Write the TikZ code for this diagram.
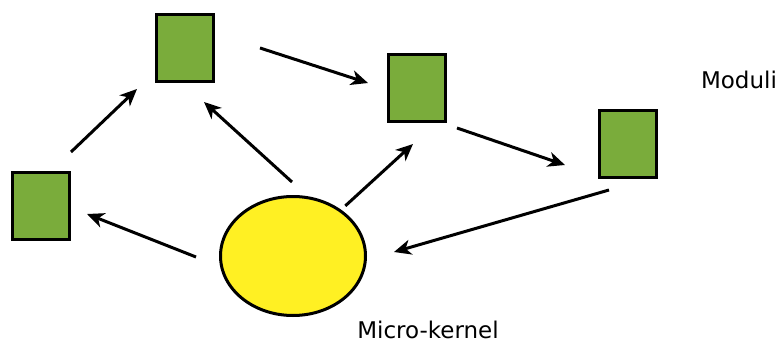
\documentclass[tikz,border=0pt]{standalone}
\usepackage{fontspec}
\setmainfont{DejaVu Sans}
\usetikzlibrary{arrows.meta,shapes.geometric}
\definecolor{modgreen}{RGB}{122,172,59}
\definecolor{kernelyellow}{RGB}{255,240,35}
\begin{document}
\begin{tikzpicture}[x=1pt, y=-1pt,
	module node/.style={draw, line width=3pt, fill=modgreen, minimum width=57pt, minimum height=67pt, inner sep=0pt},
	kernel node/.style={draw, line width=3pt, fill=kernelyellow, ellipse, minimum width=145pt, minimum height=119pt, inner sep=0pt},
	label node/.style={font=\fontsize{23}{27}\selectfont, anchor=base},
	flow/.style={line width=3pt, -{Stealth[length=17pt, width=15pt, inset=5pt]}}]
	
	\useasboundingbox (0,0) rectangle (784,342);
	
	\node[module node] (ModLeft) at (41,206) {};
	\node[module node] (ModTop) at (185,48) {};
	\node[module node] (ModMid) at (417,88) {};
	\node[module node] (ModRight) at (628,144) {};
	\node[kernel node] (Kernel) at (293,256) {};
	
	\node[label node] (Moduli) at (739,89) {Moduli};
	\node[label node] (MicroKernel) at (428,338) {Micro-kernel};
	
	\draw[flow] ([shift={(0,-19)}]ModLeft.north east) -- ([shift={(-18,6)}]ModTop.south west);
	\draw[flow] ([shift={(45,0)}]ModTop.east) -- ([shift={(-19,-5)}]ModMid.west);
	\draw[flow] ([shift={(10,5)}]ModMid.south east) -- ([shift={(-33,21)}]ModRight.west);
	\draw[flow] ([shift={(-19,11)}]ModRight.south) -- ([shift={(27,-4)}]Kernel.east);
	\draw[flow] ([shift={(-1,-13)}]Kernel.north) -- ([shift={(19,19)}]ModTop.south);
	\draw[flow] ([shift={(0,-7)}]Kernel.north east) -- ([shift={(-4,21)}]ModMid.south);
	\draw[flow] ([shift={(-23,1)}]Kernel.west) -- ([shift={(16,8)}]ModLeft.east);
\end{tikzpicture}
\end{document}
